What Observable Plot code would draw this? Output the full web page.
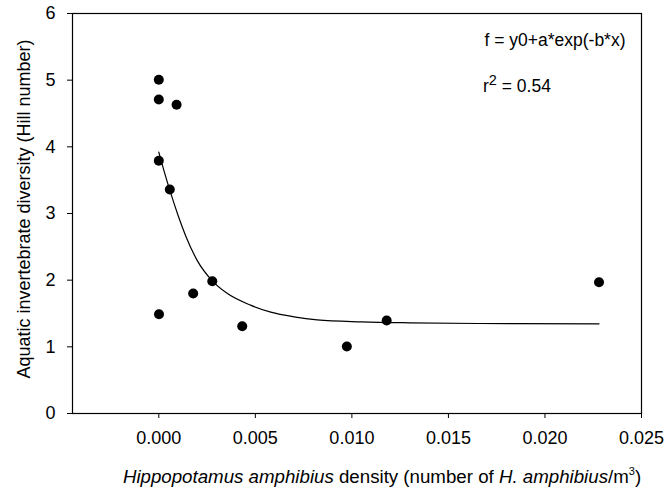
<!DOCTYPE html>
<html>
<head>
<meta charset="utf-8">
<script src="https://cdn.jsdelivr.net/npm/d3@7"></script>
<script src="https://cdn.jsdelivr.net/npm/@observablehq/plot@0.6"></script>
<style>
  html, body { margin: 0; padding: 0; background: white; }
</style>
</head>
<body>
<div id="chart"></div>
<script>
// Observed points
const densityX = [0, 0, 0.00092, 0, 0.00057, 0.00001, 0.00178, 0.00277, 0.00432, 0.00974, 0.0118, 0.0228];
const diversityY = [5.005, 4.71, 4.63, 3.79, 3.36, 1.49, 1.80, 1.985, 1.31, 1.005, 1.395, 1.97];

// Fitted curve
const curveX = [0, 0.0003, 0.00057, 0.001, 0.0014, 0.002, 0.00277, 0.0035, 0.00475, 0.0058, 0.007, 0.0082, 0.0105, 0.013, 0.0165, 0.0228];
const curveY = [3.92, 3.61, 3.35, 2.97, 2.66, 2.29, 1.99, 1.81, 1.625, 1.52, 1.45, 1.405, 1.375, 1.36, 1.35, 1.345];

// Ticks
const xTicks = [0, 0.005, 0.010, 0.015, 0.020, 0.025];
const yTicks = [0, 1, 2, 3, 4, 5, 6];

const equationText = "f = y0+a*exp(-b*x)";
const r2Value = "0.54";
const yLabel = "Aquatic invertebrate diversity (Hill number)";

const points = densityX.map((x, i) => ({x, y: diversityY[i]}));
const curve = curveX.map((x, i) => ({x, y: curveY[i]}));

const W = 668, H = 497;
const mL = 72, mR = 27, mT = 13, mB = 84;

const chart = Plot.plot({
  width: W,
  height: H,
  marginLeft: mL,
  marginRight: mR,
  marginTop: mT,
  marginBottom: mB,
  style: {fontFamily: "'Liberation Sans', Arial, sans-serif", fontSize: "18px", color: "black", background: "white"},
  x: {domain: [-0.00447, 0.025], label: null},
  y: {domain: [0, 6], label: null},
  marks: [
    Plot.frame({stroke: "black", strokeWidth: 1.2}),
    Plot.axisX({ticks: xTicks, tickFormat: d3.format(".3f"), tickSize: 5, tickPadding: 13, label: null, fill: "black", stroke: "black"}),
    Plot.axisY({ticks: yTicks, tickFormat: d3.format("d"), tickSize: 5, tickPadding: 12, label: null, fill: "black", stroke: "black"}),
    Plot.line(curve, {x: "x", y: "y", curve: "monotone-x", stroke: "black", strokeWidth: 1.2}),
    Plot.dot(points, {x: "x", y: "y", r: 5, fill: "black", stroke: "none"}),
    Plot.text([equationText], {frameAnchor: "top-right", dx: -16, dy: 32, text: d => d, textAnchor: "end", lineAnchor: "bottom", fontSize: 17.5, fill: "black"})
  ]
});

document.getElementById("chart").appendChild(chart);

const svg = d3.select(chart);
const ff = "'Liberation Sans', Arial, sans-serif";

// r^2 annotation
const r2 = svg.append("text").attr("x", 483).attr("y", 92).attr("text-anchor", "start")
  .attr("font-family", ff).attr("font-size", 17.5).attr("fill", "black");
r2.append("tspan").text("r");
r2.append("tspan").attr("dy", -7.5).attr("font-size", 14.5).text("2");
r2.append("tspan").attr("dy", 7.5).text(" = " + r2Value);

// Y axis label
svg.append("text")
  .attr("transform", `translate(30, 209) rotate(-90)`)
  .attr("text-anchor", "middle")
  .attr("font-family", ff).attr("font-size", 18).attr("fill", "black")
  .text(yLabel);

// X axis label with italics and superscript
const xl = svg.append("text").attr("x", 382).attr("y", 483).attr("text-anchor", "middle")
  .attr("font-family", ff).attr("font-size", 18.7).attr("fill", "black");
xl.append("tspan").attr("font-style", "italic").text("Hippopotamus amphibius");
xl.append("tspan").text(" density (number of ");
xl.append("tspan").attr("font-style", "italic").text("H. amphibius");
xl.append("tspan").text("/m");
xl.append("tspan").attr("dy", -8).attr("font-size", 11).text("3");
xl.append("tspan").attr("dy", 8).text(")");
</script>
</body>
</html>
